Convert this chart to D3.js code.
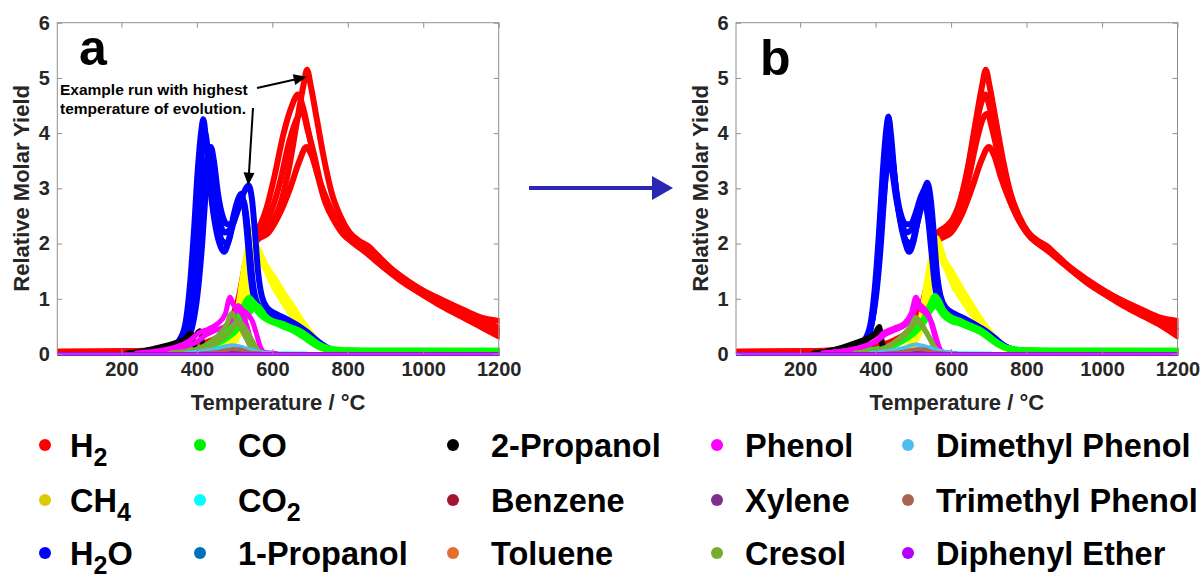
<!DOCTYPE html>
<html><head><meta charset="utf-8">
<script src="https://cdn.jsdelivr.net/npm/d3@7"></script>
<style>
html,body{margin:0;padding:0;background:#fff;}
svg{display:block;font-family:"Liberation Sans",Arial,Helvetica,sans-serif;font-weight:bold;}
</style></head><body>
<svg id="chart" width="1201" height="580"></svg>
<script>
// ---------------- DATA (temperature °C, relative molar yield) ----------------
const xTicks = [200, 400, 600, 800, 1000, 1200];
const yTicks = [0, 1, 2, 3, 4, 5, 6];
const species = ["H_2","CH_4","H_2O","CO","CO_2","1-Propanol","2-Propanol","Benzene","Toluene","Phenol","Xylene","Cresol","Dimethyl Phenol","Trimethyl Phenol","Diphenyl Ether"];
const colors = ["#ff0000","#ffff00","#0000ff","#00ff00","#00ffff","#0072bd","#000000","#a2142f","#d95319","#ff00ff","#7e2f8e","#77ac30","#4dbeee","#a86652","#b400ff"];
const markerColors = ["#ff0000","#dccb00","#0000ff","#00ee00","#00ffff","#0072bd","#000000","#a2142f","#e07030","#ff00ff","#7e2f8e","#77ac30","#4dbeee","#a86652","#b400ff"];

// ---- panel a: raw runs ----
const a_H2 = [
 [[30,.04],[200,.05],[300,.07],[380,.12],[450,.25],[490,.45],[515,.75],[535,1.2],[552,1.85],[565,2.2],[585,2.3],[605,2.45],[625,2.8],[645,3.4],[665,4.2],[682,4.85],[692,5.15],[702,4.85],[718,4.25],[738,3.5],[758,2.9],[780,2.5],[805,2.2],[830,2.05],[855,1.95],[880,1.78],[920,1.52],[960,1.32],[1000,1.15],[1050,.98],[1100,.82],[1150,.67],[1200,.6]],
 [[30,.03],[250,.05],[340,.1],[430,.22],[480,.5],[510,1.0],[530,1.7],[545,2.15],[565,2.3],[585,2.65],[605,3.2],[630,4.0],[652,4.5],[668,4.7],[680,4.5],[698,3.95],[720,3.25],[740,2.75],[765,2.4],[790,2.15],[820,2.0],[850,1.85],[890,1.6],[940,1.35],[990,1.15],[1040,.96],[1090,.8],[1140,.64],[1200,.48]],
 [[30,.04],[250,.05],[350,.1],[440,.2],[490,.45],[520,.95],[540,1.65],[552,2.1],[575,2.25],[598,2.6],[620,3.1],[645,3.85],[668,4.3],[680,4.4],[692,4.1],[711,3.6],[731,3.0],[756,2.55],[786,2.2],[816,2.0],[846,1.85],[886,1.62],[936,1.35],[986,1.13],[1036,.93],[1086,.75],[1136,.58],[1200,.42]],
 [[30,.03],[250,.04],[350,.09],[450,.2],[500,.5],[530,1.1],[548,1.75],[558,2.05],[590,2.2],[620,2.55],[647,3.0],[672,3.5],[690,3.75],[704,3.6],[722,3.2],[747,2.75],[772,2.4],[802,2.1],[832,1.95],[862,1.8],[902,1.56],[952,1.28],[1000,1.07],[1050,.86],[1100,.68],[1150,.5],[1200,.32]]
];
const a_CH4 = [
 [[410,.02],[455,.05],[485,.12],[510,.35],[527,.75],[542,1.3],[555,1.75],[562,1.9],[572,1.75],[585,1.58],[605,1.38],[630,1.1],[655,.85],[680,.58],[705,.35],[730,.17],[755,.07],[795,.03]],
 [[390,.02],[435,.05],[465,.12],[490,.35],[507,.75],[522,1.4],[535,1.95],[545,2.25],[553,2.1],[565,1.78],[585,1.5],[610,1.2],[635,.92],[660,.65],[685,.4],[710,.2],[735,.09],[775,.03]],
 [[400,.02],[445,.05],[475,.12],[498,.35],[515,.75],[530,1.35],[543,1.85],[550,2.05],[560,1.9],[572,1.68],[592,1.45],[617,1.18],[642,.9],[667,.64],[692,.4],[717,.2],[742,.09],[782,.03]],
 [[405,.02],[450,.05],[480,.12],[504,.35],[521,.75],[536,1.3],[549,1.75],[556,1.95],[566,1.85],[578,1.62],[598,1.3],[623,1.0],[648,.74],[673,.5],[698,.3],[723,.14],[748,.06],[788,.03]]
];
const a_H2O = [
 [[250,.02],[300,.05],[340,.1],[368,.2],[388,.5],[402,1.1],[414,2.0],[424,3.0],[432,3.6],[437,3.75],[445,3.5],[456,2.9],[468,2.5],[480,2.35],[493,2.35],[506,2.55],[520,2.85],[530,3.0],[537,3.05],[546,2.8],[554,2.2],[562,1.5],[572,1.05],[587,.83],[612,.72],[642,.62],[667,.52],[692,.4],[717,.25],[742,.13],[772,.06],[820,.03],[900,.02]],
 [[250,.02],[290,.05],[325,.1],[350,.22],[368,.5],[381,1.2],[392,2.2],[402,3.3],[411,4.0],[417,4.25],[424,3.9],[434,3.1],[447,2.4],[460,2.0],[472,1.85],[484,2.05],[497,2.5],[509,2.8],[517,2.9],[526,2.65],[534,2.1],[542,1.45],[552,1.0],[567,.8],[592,.7],[622,.6],[647,.52],[672,.42],[697,.28],[722,.15],[752,.07],[800,.03],[900,.02]],
 [[255,.02],[295,.05],[330,.1],[355,.2],[373,.5],[386,1.2],[398,2.3],[409,3.3],[417,3.9],[422,4.0],[430,3.6],[441,2.9],[454,2.35],[467,2.05],[480,2.0],[494,2.3],[507,2.65],[516,2.8],[525,2.75],[534,2.3],[542,1.6],[551,1.1],[565,.85],[590,.72],[620,.62],[650,.52],[675,.43],[700,.3],[725,.16],[755,.07],[800,.03]],
 [[260,.02],[300,.05],[335,.1],[360,.2],[378,.5],[392,1.2],[405,2.2],[416,3.1],[423,3.45],[428,3.55],[436,3.3],[447,2.8],[460,2.4],[473,2.2],[487,2.25],[501,2.5],[514,2.7],[522,2.72],[531,2.45],[540,1.85],[549,1.25],[560,.92],[580,.76],[610,.65],[640,.56],[668,.47],[695,.34],[720,.2],[750,.09],[790,.04]]
];
const a_CO = [
 [[300,.03],[380,.06],[430,.12],[470,.25],[500,.4],[525,.6],[545,.8],[558,.88],[568,.82],[580,.7],[600,.6],[625,.55],[650,.48],[675,.41],[700,.29],[725,.17],[750,.1],[790,.07],[900,.06],[1200,.06]],
 [[290,.03],[360,.06],[410,.12],[450,.25],[480,.4],[505,.6],[525,.88],[538,1.02],[548,.95],[560,.78],[580,.65],[605,.58],[630,.5],[655,.43],[680,.32],[705,.2],[730,.11],[770,.07],[880,.06],[1200,.06]],
 [[295,.03],[370,.06],[420,.12],[460,.25],[490,.4],[515,.6],[532,.82],[545,.95],[555,.9],[567,.74],[587,.62],[612,.55],[637,.48],[662,.4],[687,.3],[712,.18],[737,.1],[777,.07],[890,.06],[1200,.055]]
];
const a_CO2 = [[[340,.01],[470,.03],[530,.04],[590,.02],[690,.01]]];
const a_Prop1 = [[[320,.01],[390,.04],[440,.06],[490,.05],[530,.02],[570,.01]]];
const a_Prop2 = [
 [[240,.02],[275,.06],[310,.12],[345,.19],[372,.26],[395,.33],[408,.42],[415,.2],[422,.04]],
 [[215,.02],[250,.05],[285,.1],[315,.15],[345,.21],[368,.28],[384,.38],[392,.2],[400,.04]]
];
const a_Benzene = [[[430,.01],[490,.03],[520,.03],[550,.01]]];
const a_Toluene = [[[430,.01],[480,.03],[515,.05],[540,.03],[570,.01]]];
const a_Phenol = [
 [[260,.02],[310,.05],[360,.12],[400,.22],[425,.35],[450,.43],[478,.52],[497,.68],[510,.88],[520,.8],[535,.72],[548,.58],[558,.36],[568,.13],[580,.03],[610,.01]],
 [[240,.02],[290,.05],[340,.12],[380,.24],[405,.38],[430,.45],[455,.55],[475,.72],[488,1.03],[496,.9],[510,.8],[524,.68],[535,.45],[545,.2],[556,.05],[580,.01]]
];
const a_Xylene = [[[450,.01],[500,.03],[525,.04],[550,.01]]];
const a_Cresol = [
 [[350,.02],[415,.08],[450,.2],[478,.34],[498,.5],[508,.6],[518,.55],[532,.42],[547,.24],[560,.08],[574,.02]],
 [[330,.02],[395,.08],[432,.2],[460,.36],[480,.55],[492,.74],[502,.65],[516,.48],[531,.28],[545,.1],[560,.02]]
];
const a_DMP = [[[370,.02],[420,.06],[460,.11],[492,.16],[512,.14],[537,.09],[562,.04],[600,.01]]];
const a_TMP = [[[410,.01],[460,.04],[495,.09],[515,.08],[540,.03],[570,.01]]];
const a_DPE = [[[30,0],[1200,0]]];

// ---- panel b: runs aligned to the highest-temperature run ----
const b_H2 = [
 [[30,.04],[200,.05],[300,.07],[380,.12],[450,.25],[490,.45],[515,.75],[535,1.2],[552,1.85],[565,2.2],[585,2.3],[605,2.45],[625,2.8],[645,3.4],[665,4.2],[682,4.85],[692,5.15],[702,4.85],[718,4.25],[738,3.5],[758,2.9],[780,2.5],[805,2.2],[830,2.05],[855,1.95],[880,1.78],[920,1.52],[960,1.32],[1000,1.15],[1050,.98],[1100,.82],[1150,.67],[1200,.6]],
 [[30,.03],[250,.05],[350,.1],[450,.22],[500,.5],[530,1.0],[550,1.7],[565,2.15],[590,2.25],[615,2.55],[640,3.2],[665,4.1],[680,4.55],[691,4.7],[701,4.5],[718,3.95],[740,3.25],[760,2.75],[785,2.4],[810,2.15],[840,2.0],[870,1.85],[910,1.6],[960,1.35],[1010,1.13],[1060,.94],[1110,.78],[1160,.62],[1200,.5]],
 [[30,.04],[250,.05],[350,.1],[450,.2],[500,.45],[530,.95],[552,1.65],[565,2.1],[593,2.2],[619,2.5],[644,3.1],[669,3.9],[687,4.3],[697,4.35],[708,4.1],[725,3.6],[745,3.0],[770,2.55],[800,2.2],[830,2.0],[860,1.85],[900,1.62],[950,1.35],[1000,1.13],[1050,.93],[1100,.75],[1150,.58],[1200,.42]],
 [[30,.03],[250,.04],[350,.09],[455,.2],[505,.5],[535,1.1],[553,1.75],[565,2.05],[600,2.2],[630,2.55],[655,3.0],[680,3.5],[700,3.75],[714,3.6],[732,3.2],[757,2.75],[782,2.4],[812,2.1],[842,1.95],[872,1.8],[912,1.56],[962,1.28],[1010,1.07],[1060,.86],[1110,.68],[1160,.5],[1200,.32]]
];
const b_CH4 = [
 [[410,.02],[455,.05],[485,.12],[510,.35],[527,.75],[542,1.3],[555,1.75],[562,1.9],[572,1.75],[585,1.58],[605,1.38],[630,1.1],[655,.85],[680,.58],[705,.35],[730,.17],[755,.07],[795,.03]],
 [[406,.02],[451,.05],[481,.12],[506,.35],[523,.75],[538,1.4],[551,1.85],[561,2.1],[569,1.98],[581,1.72],[601,1.5],[626,1.2],[651,.92],[676,.65],[701,.4],[726,.2],[751,.09],[791,.03]],
 [[413,.02],[458,.05],[488,.12],[511,.35],[528,.75],[543,1.35],[556,1.8],[563,1.95],[573,1.82],[585,1.6],[605,1.38],[630,1.1],[655,.85],[680,.6],[705,.38],[730,.19],[755,.08],[795,.03]],
 [[415,.02],[460,.05],[490,.12],[514,.35],[531,.75],[546,1.3],[559,1.75],[566,1.9],[576,1.8],[588,1.55],[608,1.22],[633,.95],[658,.7],[683,.48],[708,.29],[733,.14],[758,.06],[798,.03]]
];
const b_H2O = [
 [[250,.02],[300,.05],[340,.1],[368,.2],[388,.5],[402,1.1],[414,2.0],[424,3.0],[432,3.6],[437,3.75],[445,3.5],[456,2.9],[468,2.5],[480,2.35],[493,2.35],[506,2.55],[520,2.85],[530,3.0],[537,3.1],[546,2.8],[554,2.2],[562,1.5],[572,1.05],[587,.83],[612,.72],[642,.62],[667,.52],[692,.4],[717,.25],[742,.13],[772,.06],[820,.03],[900,.02]],
 [[250,.02],[300,.05],[340,.1],[367,.22],[385,.5],[398,1.2],[409,2.2],[419,3.3],[428,4.05],[434,4.3],[441,3.95],[451,3.15],[464,2.45],[477,2.05],[489,1.85],[501,2.05],[514,2.5],[526,2.85],[535,2.95],[544,2.7],[552,2.15],[560,1.5],[570,1.03],[585,.8],[610,.7],[640,.6],[665,.52],[690,.42],[715,.28],[740,.15],[770,.07],[820,.03],[900,.02]],
 [[260,.02],[300,.05],[345,.1],[370,.2],[388,.5],[401,1.2],[413,2.3],[424,3.3],[431,3.9],[436,4.0],[444,3.6],[455,2.9],[468,2.35],[481,2.05],[494,2.0],[508,2.3],[521,2.65],[530,2.8],[539,2.75],[548,2.3],[556,1.6],[565,1.1],[579,.85],[604,.72],[634,.62],[664,.52],[689,.43],[714,.3],[739,.16],[769,.07],[810,.03]],
 [[270,.02],[310,.05],[345,.1],[370,.2],[388,.5],[402,1.2],[414,2.2],[425,3.1],[431,3.45],[436,3.55],[444,3.3],[455,2.8],[468,2.4],[481,2.2],[495,2.25],[509,2.5],[522,2.7],[530,2.72],[539,2.45],[548,1.85],[557,1.25],[568,.92],[588,.76],[618,.65],[648,.56],[676,.47],[703,.34],[728,.2],[758,.09],[798,.04]]
];
const b_CO = [
 [[300,.03],[380,.06],[430,.12],[470,.25],[500,.4],[525,.6],[545,.8],[558,.88],[568,.82],[580,.7],[600,.6],[625,.55],[650,.48],[675,.41],[700,.29],[725,.17],[750,.1],[790,.07],[900,.06],[1200,.06]],
 [[309,.03],[379,.06],[429,.12],[469,.25],[499,.4],[524,.6],[544,.88],[557,1.05],[567,.97],[579,.8],[599,.67],[624,.6],[649,.52],[674,.45],[699,.33],[724,.2],[749,.11],[789,.07],[900,.06],[1200,.06]],
 [[310,.03],[385,.06],[435,.12],[475,.25],[505,.4],[530,.6],[547,.82],[560,.95],[570,.9],[582,.74],[602,.62],[627,.55],[652,.48],[677,.4],[702,.3],[727,.18],[752,.1],[792,.07],[900,.06],[1200,.055]]
];
const b_CO2 = [[[355,.01],[485,.03],[545,.04],[605,.02],[705,.01]]];
const b_Prop1 = [[[335,.01],[405,.04],[455,.06],[505,.05],[545,.02],[585,.01]]];
const b_Prop2 = [
 [[240,.02],[275,.06],[310,.12],[345,.2],[375,.28],[398,.38],[410,.5],[417,.25],[424,.04]],
 [[235,.02],[270,.05],[305,.1],[340,.16],[372,.24],[395,.33],[408,.4],[415,.2],[422,.04]]
];
const b_Benzene = [[[445,.01],[505,.03],[535,.03],[565,.01]]];
const b_Toluene = [[[445,.01],[495,.03],[530,.05],[555,.03],[585,.01]]];
const b_Phenol = [
 [[260,.02],[310,.05],[360,.12],[400,.22],[425,.35],[450,.43],[478,.52],[497,.68],[510,.88],[520,.8],[535,.72],[548,.58],[558,.36],[568,.13],[580,.03],[610,.01]],
 [[260,.02],[310,.05],[360,.12],[400,.24],[425,.4],[450,.47],[475,.55],[495,.75],[507,1.03],[515,.92],[529,.82],[543,.66],[553,.42],[563,.16],[575,.04],[600,.01]]
];
const b_Xylene = [[[465,.01],[515,.03],[540,.04],[565,.01]]];
const b_Cresol = [
 [[350,.02],[415,.08],[450,.2],[478,.34],[498,.5],[508,.6],[518,.55],[532,.42],[547,.24],[560,.08],[574,.02]],
 [[345,.02],[410,.08],[447,.2],[475,.36],[495,.52],[506,.66],[516,.6],[530,.45],[545,.26],[558,.09],[572,.02]]
];
const b_DMP = [[[385,.02],[435,.06],[475,.11],[505,.17],[525,.15],[550,.1],[575,.05],[610,.01]]];
const b_TMP = [[[425,.01],[475,.04],[510,.09],[530,.08],[555,.03],[585,.01]]];
const b_DPE = [[[30,0],[1200,0]]];

const panelA = [a_H2,a_CH4,a_H2O,a_CO,a_CO2,a_Prop1,a_Prop2,a_Benzene,a_Toluene,a_Phenol,a_Xylene,a_Cresol,a_DMP,a_TMP,a_DPE];
const panelB = [b_H2,b_CH4,b_H2O,b_CO,b_CO2,b_Prop1,b_Prop2,b_Benzene,b_Toluene,b_Phenol,b_Xylene,b_Cresol,b_DMP,b_TMP,b_DPE];

// ---------------- LAYOUT ----------------
const svg = d3.select("#chart");
const plotTop = 22.7, plotBottom = 354;
const panels = [
  {letter:"a", left:57.3, right:498.7, letterX:79, letterY:65, data:panelA, annotate:true},
  {letter:"b", left:736, right:1177.5, letterX:760, letterY:75, data:panelB, annotate:false}
];
const textColor = "#262626";
const axisColor = "#8f8f8f";
const strokeW = [6,6,6,6,4,4,5,4,4,5,4,5,4,4,4];

function arrow(g, x0, y0, x1, y1, len, half, color, width){
  const dx = x1-x0, dy = y1-y0, L = Math.hypot(dx,dy);
  const ux = dx/L, uy = dy/L, bx = x1-ux*len, by = y1-uy*len;
  g.append("line").attr("x1",x0).attr("y1",y0).attr("x2",bx+ux*1).attr("y2",by+uy*1)
    .attr("stroke",color).attr("stroke-width",width);
  g.append("polygon").attr("points",[[x1,y1],[bx-uy*half,by+ux*half],[bx+uy*half,by-ux*half]].map(p=>p.join(",")).join(" "))
    .attr("fill",color);
}

panels.forEach((p,pi)=>{
  const x = d3.scaleLinear().domain([30,1200]).range([p.left,p.right]);
  const y = d3.scaleLinear().domain([0,6]).range([plotBottom,plotTop]);
  const g = svg.append("g");
  const clipId = "clip"+pi;
  g.append("clipPath").attr("id",clipId).append("rect")
    .attr("x",p.left).attr("y",plotTop-3).attr("width",p.right-p.left+1).attr("height",plotBottom-plotTop+6);

  const line = d3.line().x(d=>x(d[0])).y(d=>y(d[1])).curve(d3.curveMonotoneX);
  const dg = g.append("g").attr("clip-path",`url(#${clipId})`);
  p.data.forEach((runs,si)=>{
    runs.forEach(run=>{
      dg.append("path").attr("d",line(run)).attr("fill","none")
        .attr("stroke",colors[si]).attr("stroke-width", strokeW[si])
        .attr("stroke-linejoin","round").attr("stroke-linecap","round");
    });
  });

  // box
  g.append("rect").attr("x",p.left).attr("y",plotTop).attr("width",p.right-p.left).attr("height",plotBottom-plotTop)
    .attr("fill","none").attr("stroke",axisColor).attr("stroke-width",1);

  // axes
  const fmt = d3.format("d");
  const xb = g.append("g").attr("transform",`translate(0,${plotBottom})`)
    .call(d3.axisBottom(x).tickValues(xTicks).tickFormat(fmt).tickSizeInner(-5).tickSizeOuter(0).tickPadding(8));
  const xt = g.append("g").attr("transform",`translate(0,${plotTop})`)
    .call(d3.axisTop(x).tickValues(xTicks).tickSizeInner(-5).tickSizeOuter(0).tickFormat(""));
  const yl = g.append("g").attr("transform",`translate(${p.left},0)`)
    .call(d3.axisLeft(y).tickValues(yTicks).tickFormat(fmt).tickSizeInner(-5).tickSizeOuter(0).tickPadding(7.5));
  const yr = g.append("g").attr("transform",`translate(${p.right},0)`)
    .call(d3.axisRight(y).tickValues(yTicks).tickSizeInner(-5).tickSizeOuter(0).tickFormat(""));
  [xb,xt,yl,yr].forEach(a=>{
    a.select(".domain").remove();
    a.selectAll(".tick line").attr("stroke",axisColor);
    a.selectAll(".tick text").attr("fill",textColor).style("font-size","20px")
      .style("font-family",'"Liberation Sans",Arial,sans-serif').style("font-weight","bold");
  });
  // axis titles
  g.append("text").attr("x",(p.left+p.right)/2).attr("y",410).attr("text-anchor","middle")
    .attr("fill",textColor).style("font-size","22px").text("Temperature / °C");
  g.append("text").attr("transform",`translate(${p.left-28},${(plotTop+plotBottom)/2}) rotate(-90)`)
    .attr("text-anchor","middle").attr("fill",textColor).style("font-size","22px").text("Relative Molar Yield");
  // panel letter
  g.append("text").attr("x",p.letterX).attr("y",p.letterY).attr("fill","#000").style("font-size","50px").text(p.letter);

  if(p.annotate){
    const ag = g.append("g");
    ag.append("text").attr("x",60).attr("y",95).attr("fill","#000").style("font-size","15.5px").text("Example run with highest");
    ag.append("text").attr("x",60).attr("y",114.3).attr("fill","#000").style("font-size","15.5px").text("temperature of evolution.");
    arrow(ag, 257, 88, x(691), y(5.02), 13, 5.5, "#000", 2);
    arrow(ag, 253, 108, x(536), y(3.05), 13, 5.5, "#000", 2);
  }
});

// arrow between panels
arrow(svg.append("g"), 529, 188, 673, 188, 21, 12, "#2828b4", 4);

// ---------------- LEGEND ----------------
const legendDotX = [45, 200, 453, 717, 908];
const legendTextX = [70, 238, 491, 745, 936];
const legendRowY = [445, 500, 553];
const lg = svg.append("g");
species.forEach((name,i)=>{
  const c = Math.floor(i/3), r = i%3;
  const cy = legendRowY[r];
  lg.append("circle").attr("cx",legendDotX[c]).attr("cy",cy).attr("r",6).attr("fill",markerColors[i]);
  const t = lg.append("text").attr("x",legendTextX[c]).attr("y",cy+11.5).attr("fill","#000").style("font-size","32.5px");
  const parts = name.split(/_(\d)/);
  let sub = false;
  parts.forEach((s,k)=>{
    if(s==="") return;
    const isSub = (k%2===1);
    const ts = t.append("tspan").text(s);
    if(isSub){ ts.attr("dy",9.5).style("font-size","25px"); sub = true; }
    else if(sub){ ts.attr("dy",-9.5); sub = false; }
  });
});
</script>
</body></html>
